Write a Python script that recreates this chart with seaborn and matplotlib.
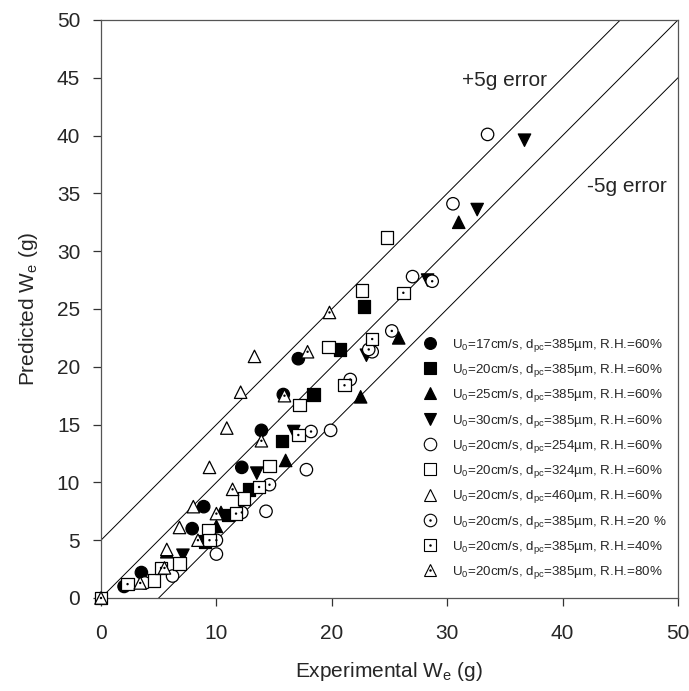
import numpy as np
import pandas as pd
import matplotlib
matplotlib.use("Agg")
import matplotlib.pyplot as plt
import seaborn as sns
from matplotlib.lines import Line2D

# ---------------- data ----------------
labels = [
    r"U$_0$=17cm/s, d$_{\rm pc}$=385µm, R.H.=60%",
    r"U$_0$=20cm/s, d$_{\rm pc}$=385µm, R.H.=60%",
    r"U$_0$=25cm/s, d$_{\rm pc}$=385µm, R.H.=60%",
    r"U$_0$=30cm/s, d$_{\rm pc}$=385µm, R.H.=60%",
    r"U$_0$=20cm/s, d$_{\rm pc}$=254µm, R.H.=60%",
    r"U$_0$=20cm/s, d$_{\rm pc}$=324µm, R.H.=60%",
    r"U$_0$=20cm/s, d$_{\rm pc}$=460µm, R.H.=60%",
    r"U$_0$=20cm/s, d$_{\rm pc}$=385µm, R.H.=20 %",
    r"U$_0$=20cm/s, d$_{\rm pc}$=385µm, R.H.=40%",
    r"U$_0$=20cm/s, d$_{\rm pc}$=385µm, R.H.=80%",
]

s1_x = [2.0, 3.5, 7.9, 8.9, 12.2, 13.9, 15.8, 17.1]
s1_y = [1.0, 2.2, 6.0, 7.9, 11.3, 14.5, 17.6, 20.7]

s2_x = [9.0, 11.0, 12.8, 15.7, 18.4, 20.7, 22.8]
s2_y = [4.9, 7.2, 9.4, 13.6, 17.6, 21.5, 25.2]

s3_x = [5.7, 10.0, 10.4, 16.0, 22.5, 25.8, 31.0]
s3_y = [4.0, 6.2, 7.4, 11.9, 17.4, 22.5, 32.5]

s4_x = [7.1, 13.5, 16.7, 23.0, 28.3, 32.6, 36.7]
s4_y = [3.7, 10.8, 14.4, 21.0, 27.5, 33.6, 39.6]

s5_x = [3.8, 6.2, 10.0, 14.3, 17.8, 19.9, 23.5, 27.0, 30.5, 33.5]
s5_y = [1.3, 1.9, 3.8, 7.5, 11.1, 14.5, 21.3, 27.8, 34.1, 40.1]

s6_x = [0.0, 4.6, 6.8, 9.3, 12.4, 14.6, 17.2, 19.7, 22.6, 24.8]
s6_y = [0.0, 1.5, 3.0, 5.9, 8.6, 11.4, 16.7, 21.7, 26.6, 31.2]

s7_x = [5.7, 6.8, 8.0, 9.4, 10.9, 12.1, 13.3]
s7_y = [4.2, 6.1, 7.9, 11.3, 14.7, 17.8, 20.9]

s8_x = [10.0, 12.2, 14.6, 18.2, 21.6, 23.2, 25.2, 28.7]
s8_y = [5.0, 7.4, 9.8, 14.4, 18.9, 21.5, 23.1, 27.4]

s9_x = [2.3, 5.2, 9.4, 11.7, 13.7, 17.1, 21.1, 23.5, 26.2]
s9_y = [1.2, 2.6, 5.0, 7.3, 9.6, 14.1, 18.4, 22.4, 26.4]

s10_x = [0.0, 3.4, 5.5, 8.4, 10.0, 11.4, 13.9, 15.9, 17.9, 19.8]
s10_y = [0.0, 1.3, 2.6, 5.0, 7.3, 9.4, 13.6, 17.5, 21.3, 24.7]

error_offsets = [5, 0, -5]
ticks_x = [0, 10, 20, 30, 40, 50]
ticks_y = [0, 5, 10, 15, 20, 25, 30, 35, 40, 45, 50]

# ---------------- style ----------------
xs = [s1_x, s2_x, s3_x, s4_x, s5_x, s6_x, s7_x, s8_x, s9_x, s10_x]
ys = [s1_y, s2_y, s3_y, s4_y, s5_y, s6_y, s7_y, s8_y, s9_y, s10_y]
shapes = ["o", "s", "^", "v", "o", "s", "^", "o", "s", "^"]
faces = ["black"] * 4 + ["white"] * 6
dotted = [False] * 7 + [True] * 3

rows = []
for lab, x, y in zip(labels, xs, ys):
    for a, b in zip(x, y):
        rows.append({"series": lab, "x": a, "y": b})
df = pd.DataFrame(rows)

sns.set_style("ticks")
plt.rcParams["font.family"] = ["Liberation Sans", "DejaVu Sans"]
plt.rcParams["mathtext.fontset"] = "custom"
plt.rcParams["mathtext.rm"] = "Liberation Sans"
plt.rcParams["mathtext.it"] = "Liberation Sans:italic"
plt.rcParams["mathtext.bf"] = "Liberation Sans:bold"

fig = plt.figure(figsize=(6.89, 6.91), dpi=100)
ax = fig.add_axes([0.1466, 0.1346, 0.8374, 0.8365])

# reference lines
lx = np.array([0.0, 50.0])
for off in error_offsets:
    ax.plot(lx, lx + off, color="black", lw=0.7, zorder=1)

sns.scatterplot(data=df, x="x", y="y", hue="series", style="series",
                palette=dict(zip(labels, faces)),
                markers=dict(zip(labels, shapes)),
                s=80, edgecolor="black", linewidth=0.9,
                legend=False, ax=ax, zorder=3)

dot_df = df[df["series"].isin([l for l, d in zip(labels, dotted) if d])]
sns.scatterplot(data=dot_df, x="x", y="y", color="black", marker="o",
                s=3, edgecolor="none", legend=False, ax=ax, zorder=4)

for c in ax.collections:
    c.set_clip_on(False)

ax.set_xlim(0, 50)
ax.set_ylim(0, 50)
ax.set_xticks(ticks_x)
ax.set_yticks(ticks_y)
ax.tick_params(axis="both", labelsize=15, length=6, width=0.9, direction="out",
               color="#333333")
ax.tick_params(axis="x", pad=13)
ax.tick_params(axis="y", pad=9)
for sp in ax.spines.values():
    sp.set_linewidth(0.9)
    sp.set_color("#555555")
    sp.set_visible(True)

ax.set_xlabel(r"Experimental W$_{\rm e}$ (g)", fontsize=15, labelpad=12)
ax.set_ylabel(r"Predicted W$_{\rm e}$ (g)", fontsize=15, labelpad=12)

ax.text(35.0, 44.8, "+5g error", fontsize=15, ha="center", va="center")
ax.text(45.6, 35.6, "-5g error", fontsize=15, ha="center", va="center")

# legend
handles = []
for shp, fc, dt in zip(shapes, faces, dotted):
    base = Line2D([], [], linestyle="none", marker=shp, markerfacecolor=fc,
                  markeredgecolor="black", markersize=8.5 if fc == "black" else 9,
                  markeredgewidth=0.8)
    if dt:
        dot = Line2D([], [], linestyle="none", marker="o", markersize=1.8,
                     markerfacecolor="black", markeredgecolor="none")
        handles.append((base, dot))
    else:
        handles.append(base)

leg = ax.legend(handles, labels, loc="upper left", bbox_to_anchor=(0.556, 0.452),
                frameon=False, fontsize=9.6, handlelength=1.2, handletextpad=1.1,
                labelspacing=0.62, borderpad=0, borderaxespad=0)

fig.savefig("out.png", dpi=100)
